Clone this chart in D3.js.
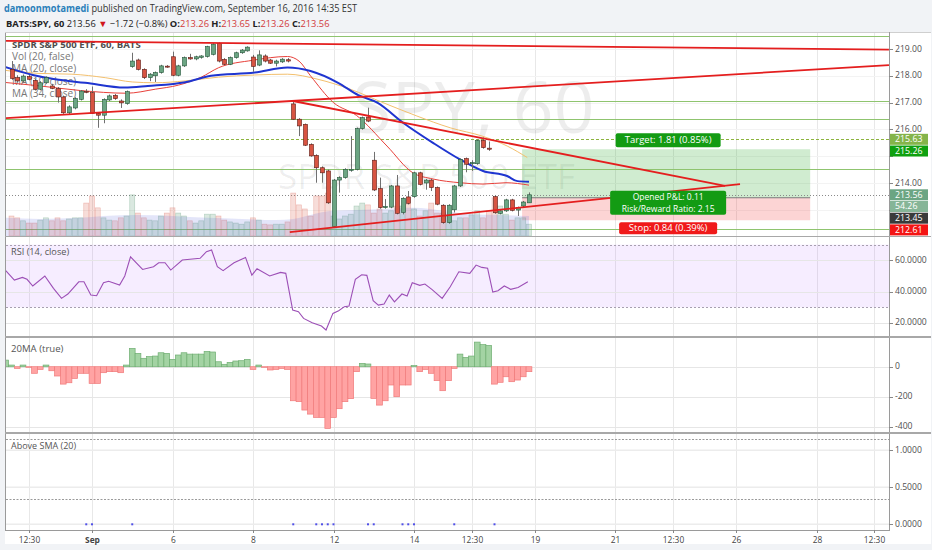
<!DOCTYPE html>
<html><head><meta charset="utf-8">
<script src="https://cdn.jsdelivr.net/npm/d3@7"></script>
<style>
html,body{margin:0;padding:0;background:#f1f3f6;}
svg{display:block;font-family:"Open Sans",Arial,sans-serif;}
</style></head><body>
<svg id="c" width="932" height="550"></svg>
<script>
// ---------------- DATA ----------------
const open = [218.24,217.93,217.81,217.97,217.83,217.50,217.74,217.62,217.52,217.21,
216.62,216.80,217.12,217.42,217.37,216.60,216.53,217.10,217.27,217.06,
216.96,218.34,218.59,218.24,217.93,218.00,218.12,218.36,218.71,218.02,
218.37,218.68,218.63,218.69,218.72,218.80,219.21,218.61,218.43,218.68,
218.86,218.93,218.70,218.40,218.74,218.59,218.47,218.52,218.60,216.95,
216.38,216.19,215.44,215.03,214.57,214.45,212.37,214.11,214.20,214.48,
214.51,216.03,216.46,214.85,213.79,213.08,213.10,213.89,212.90,213.48,
213.49,214.38,214.00,214.11,213.83,213.17,212.52,213.00,213.89,214.91,
214.72,214.72,215.59,215.30,213.49,212.87,212.96,213.37,212.99,213.14,
213.26];
const high = [218.55,218.02,218.05,218.03,217.88,217.80,217.98,217.70,217.58,217.26,
216.90,217.20,217.47,217.50,217.60,216.64,217.16,217.30,217.32,217.12,
217.45,218.86,218.64,218.28,218.10,218.16,218.41,218.40,218.90,218.41,
218.72,218.82,218.75,218.77,219.12,219.22,219.25,218.66,218.72,218.90,
219.00,219.10,218.78,218.95,218.80,218.63,218.60,218.66,218.66,217.05,
216.42,216.22,215.48,215.07,214.62,214.50,214.15,214.25,214.55,215.75,
216.07,216.48,216.81,215.16,214.20,213.40,213.93,214.30,213.47,213.70,
214.42,214.42,214.15,214.15,213.87,213.21,213.21,213.93,214.92,214.95,
214.85,215.63,215.70,215.55,213.53,213.00,213.41,213.41,213.12,213.33,
213.65];
const low = [217.85,217.75,217.77,217.83,217.45,217.46,217.70,217.50,217.00,216.58,
216.56,216.75,217.08,217.35,216.58,216.06,216.23,217.06,217.10,216.80,
216.92,218.30,218.20,217.88,217.80,217.77,218.08,218.30,217.98,217.98,
218.33,218.60,218.58,218.64,218.68,218.76,218.50,218.40,218.40,218.64,
218.82,218.90,218.15,218.36,218.50,218.44,218.35,218.48,218.50,216.35,
215.75,215.38,214.98,214.01,214.01,213.22,212.33,213.64,214.16,214.42,
214.47,215.99,216.27,213.70,213.04,213.04,213.06,212.83,212.83,213.20,
213.45,213.91,213.75,213.70,213.17,212.48,212.48,212.90,213.85,214.40,
214.45,214.68,215.28,215.20,212.85,212.83,212.92,212.94,212.77,213.10,
213.26];
const close = [217.90,217.81,217.99,217.87,217.50,217.74,217.93,217.53,217.21,216.62,
216.84,217.15,217.43,217.40,216.60,216.53,217.12,217.25,217.15,216.99,
217.41,218.55,218.24,217.93,218.06,218.12,218.37,218.34,218.02,218.37,
218.68,218.63,218.71,218.74,219.09,219.18,218.55,218.43,218.68,218.86,
218.96,219.07,218.35,218.78,218.55,218.47,218.55,218.62,218.55,216.38,
216.13,215.41,215.01,214.57,214.38,213.26,214.11,214.20,214.51,214.51,
216.03,216.44,216.31,213.74,213.08,213.12,213.89,212.87,213.43,213.24,
214.38,213.95,214.11,213.83,213.21,212.52,213.17,213.89,214.88,214.70,
214.76,215.59,215.32,215.26,212.89,212.96,213.37,212.98,213.08,213.29,
213.56];
const volume = [54,49,41,35,35,43,49,41,49,41,
46,49,49,89,108,76,49,43,41,49,
54,111,62,49,43,41,54,62,76,62,
54,41,35,41,59,59,54,43,38,35,
32,38,49,43,32,30,32,32,38,116,
84,73,54,108,108,116,54,46,54,59,
81,89,84,62,73,62,68,81,81,86,
73,54,68,89,62,62,54,41,49,49,
57,68,49,68,103,81,59,43,49,49,
32];
// [bar index, value] points
const volMA = [[-1,49],[5,46],[12,49],[16,54],[22,57],[28,54],[34,49],[40,46],[46,43],[49,46],[52,57],[56,68],[60,70],[65,73],[70,76],[75,68],[80,59],[85,57],[90,54]];
const maFast = [[-1,217.75],[5,217.62],[12,217.45],[20,217.35],[25,217.50],[29,217.65],[33,217.95],[36,218.30],[42,218.58],[48,218.72],[50,218.55],[52,218.00],[56,217.00],[60,216.52],[65.3,215.38],[69.8,214.38],[73.3,214.15],[78,214.01],[82,213.96],[86,214.01],[90,213.92]];
const ma20 = [[-1,218.32],[3.7,218.03],[7.6,217.87],[12.8,217.74],[19.7,217.56],[23.7,217.62],[30.2,217.76],[34.7,218.00],[42.3,218.12],[48,218.31],[52,218.18],[56.8,217.74],[60.3,217.28],[63.6,217.00],[68.1,216.25],[73.3,215.50],[78,214.88],[82,214.45],[86.2,214.26],[88,214.07],[90,214.05]];
const ma34 = [[-1,218.20],[4.6,218.09],[10.5,218.06],[16.3,217.93],[21,217.77],[25,217.74],[30.2,217.81],[36,217.95],[42.3,218.03],[48,218.06],[53.3,217.87],[58.9,217.50],[64.6,217.00],[70.5,216.50],[76.3,216.06],[82,215.74],[86.2,215.38],[89.7,214.95]];
const rsi = [[-1,53.4],[0.5,47.4],[1.9,49.1],[2.7,47.9],[3.7,43.6],[5.8,50.0],[7.3,42.1],[8.7,35.7],[9.8,38.5],[11.7,46.3],[12.6,46.3],[13.8,37.8],[14.8,37.4],[16,45.7],[16.9,46.6],[18.8,44.2],[19.7,50.0],[20.7,62.3],[22.8,54.2],[24.7,55.9],[25.6,58.5],[26.7,58.5],[27.7,53.8],[29.7,60.2],[32.8,61.3],[33.9,65.5],[34.8,66.6],[35.8,55.9],[36.8,53.4],[38.7,58.5],[40.7,61.9],[41.8,50.6],[42.7,54.6],[44.9,50.0],[46.8,52.3],[47.7,51.7],[48.9,28.2],[49.9,27.2],[50.8,22.9],[52.3,20.1],[53.9,18.0],[54.7,15.5],[55.9,26.1],[56.9,27.8],[57.9,30.4],[58.7,30.8],[59.8,47.9],[60.9,50.8],[61.8,50.4],[62.9,34.2],[63.8,31.4],[64.8,32.1],[65.7,37.8],[66.6,33.5],[67.9,38.5],[68.8,37.2],[69.7,45.7],[71,44.0],[71.9,44.9],[73.1,41.5],[74.9,35.7],[76.3,43.1],[77.8,52.7],[79.7,51.7],[80.8,57.0],[81.8,55.5],[82.8,54.9],[83.7,39.7],[84.6,40.6],[85.7,43.6],[86.8,41.5],[88.1,42.7],[89.8,46.3]];
// 20MA (true) histogram, bar index -1 .. 90
const maHistStart = -1;
const maHist = [44,
11,-11,11,-4,-44,-18,11,-27,-62,-116,
-107,-78,-44,-44,-111,-111,-40,-33,-33,-40,
11,122,89,56,67,71,93,89,49,78,
93,84,84,84,102,98,33,16,29,38,
40,49,-18,11,-4,-22,-18,-11,-18,-227,
-233,-289,-316,-338,-338,-411,-338,-280,-233,-213,
-33,22,18,-211,-256,-227,-122,-200,-122,-122,
7,-33,-18,-44,-93,-160,-93,-11,84,62,
71,164,147,142,-116,-104,-67,-100,-89,-67,
-33];
const aboveDots = [13,14,21,49,53,54,55,56,62,63,68,69,70,77,84];
const aboveBands = [1.15,0.34];
const greenLevels = [219.49,217.06,216.39,214.52,212.27];
const dashedLevel = 215.63;
const lastPrice = 213.56;
const volLabel = "54.26";
const trendLines = [[[-1,219.30],[152.6,218.98]],[[-1,216.42],[152.6,218.40]],[[48.96,217.06],[124.1,213.89]],[[48.4,212.17],[126.7,213.96]]];
const position = {start:88.8, end:138.9, entry:213.45, target:215.26, stop:212.61};
const timeTicks = [[3,"12:30"],[14,"Sep"],[28,"6"],[42,"8"],[56,"12"],[70,"14"],[80,"12:30"],[91,"19"],[105,"21"],[115,"12:30"],[126,"26"],[140,"28"],[150,"12:30"]];
const priceTicks = [212,213,214,215,216,217,218,219];
const rsiTicks = [20,40,60];
const maTicks = [0,-200,-400];
const aboveTicks = [0,0.5,1];
const legendLines = ["SPDR S&P 500 ETF, 60, BATS","Vol (20, false)","MA (20, close)","MA (10, close)","MA (34, close)"];

// ---------------- LAYOUT ----------------
const L=6, R=889;
const P = {main:[33,236], rsi:[237,336], ma:[338,432], ab:[434,530]};
const x = d3.scaleLinear().domain([0,150]).range([11.5,874]);
const yP = d3.scaleLinear().domain([213,219]).range([209.8,49]);
const yV = d3.scaleLinear().domain([0,135]).range([236,186]);
const yR = d3.scaleLinear().domain([30,70]).range([307.3,244.7]);
const yM = d3.scaleLinear().domain([0,-400]).range([366.7,426.7]);
const yA = d3.scaleLinear().domain([0,1]).range([524.3,450.3]);

const svg = d3.select("#c");
const defs = svg.append("defs");
Object.entries(P).forEach(([k,[a,b]])=>{
  defs.append("clipPath").attr("id","clip-"+k).append("rect").attr("x",L).attr("y",a).attr("width",R-L).attr("height",b-a);
});
svg.append("rect").attr("width",932).attr("height",550).attr("fill","#f1f3f6");
svg.append("rect").attr("x",5).attr("y",32).attr("width",926).attr("height",512).attr("fill","#fff");

// header
const hdr = svg.append("g");
const line1 = hdr.append("text").attr("x",4).attr("y",12).attr("font-size",10).attr("textLength",353).attr("lengthAdjust","spacingAndGlyphs");
line1.append("tspan").attr("font-weight","bold").attr("fill","#2a7fba").text("damoonmotamedi");
line1.append("tspan").attr("fill","#333").text(" published on TradingView.com, September 16, 2016 14:35 EST");
const h2 = [["BATS:SPY, 60 ","#222",true],["213.56 ","#222",false],["▼","#d0161b",false],[" \u22121.72 (\u22120.8%) ","#222",false],
["O:","#222",true],["213.26 ","#d23a3a",false],["H:","#222",true],["213.65 ","#d23a3a",false],
["L:","#222",true],["213.26 ","#d23a3a",false],["C:","#222",true],["213.56","#d23a3a",false]];
const line2 = hdr.append("text").attr("x",6).attr("y",27).attr("font-size",9.3).style("white-space","pre");
h2.forEach(d=>line2.append("tspan").attr("fill",d[1]).attr("font-weight",d[2]?"bold":"normal").text(d[0]));

// vertical grid across panes
const grid = svg.append("g");
timeTicks.forEach(([i])=>{
  const xx = Math.round(x(i))+0.5;
  if(xx>L && xx<R) grid.append("line").attr("x1",xx).attr("x2",xx).attr("y1",33).attr("y2",530).attr("stroke","#e8e8e8");
});

// ---------- MAIN PANE ----------
const gm = svg.append("g").attr("clip-path","url(#clip-main)");
priceTicks.forEach(v=>gm.append("line").attr("x1",L).attr("x2",R).attr("y1",Math.round(yP(v))+0.5).attr("y2",Math.round(yP(v))+0.5).attr("stroke","#f3f3f3"));
// watermark
gm.append("text").attr("x",352).attr("y",133).attr("font-size",72).attr("fill","#000").attr("fill-opacity",0.07).text("SPY, 60");
gm.append("text").attr("x",278).attr("y",189).attr("font-size",34).attr("fill","#000").attr("fill-opacity",0.07).attr("textLength",297).attr("lengthAdjust","spacingAndGlyphs").text("SPDR S&P 500 ETF");
// position tool boxes
const px0 = x(position.start), px1 = x(position.end);
gm.append("rect").attr("x",px0).attr("width",px1-px0).attr("y",yP(position.target)).attr("height",yP(position.entry)-yP(position.target)).attr("fill","rgba(40,170,40,0.22)");
gm.append("rect").attr("x",px0).attr("width",px1-px0).attr("y",yP(position.entry)).attr("height",yP(position.stop)-yP(position.entry)).attr("fill","rgba(240,40,40,0.2)");
gm.append("line").attr("x1",px0).attr("x2",px1).attr("y1",yP(position.entry)).attr("y2",yP(position.entry)).attr("stroke","#7a7a7a").attr("stroke-width",1.2);
// horizontal levels
greenLevels.forEach(v=>gm.append("line").attr("x1",L).attr("x2",R).attr("y1",Math.round(yP(v))+0.5).attr("y2",Math.round(yP(v))+0.5).attr("stroke","#8fc46f"));
gm.append("line").attr("x1",L).attr("x2",R).attr("y1",Math.round(yP(dashedLevel))+0.5).attr("y2",Math.round(yP(dashedLevel))+0.5).attr("stroke","#8db43e").attr("stroke-dasharray","3,2").attr("stroke-width",1.2);
gm.append("line").attr("x1",L).attr("x2",R).attr("y1",Math.round(yP(lastPrice))+0.5).attr("y2",Math.round(yP(lastPrice))+0.5).attr("stroke","#8a8a8a").attr("stroke-dasharray","1,2");
// legend
legendLines.forEach((t,k)=>gm.append("text").attr("x",12).attr("y",48+k*12.2).attr("font-size",k===0?9.6:10).attr("font-weight",k===0?"bold":"normal").attr("fill",k===0?"#4d4d4d":"#777").text(t));
// volume
const idx = d3.range(close.length);
idx.forEach(i=>{
  const up = close[i]>=open[i];
  gm.append("rect").attr("x",x(i)-2.5).attr("width",5).attr("y",yV(volume[i])).attr("height",236-yV(volume[i]))
    .attr("fill",up?"rgba(107,165,131,0.25)":"rgba(215,84,66,0.2)").attr("stroke",up?"rgba(107,165,131,0.45)":"rgba(215,84,66,0.35)").attr("stroke-width",0.6);
});
gm.append("path").datum(volMA).attr("d",d3.area().x(d=>x(d[0])).y0(236).y1(d=>yV(d[1])).curve(d3.curveMonotoneX)).attr("fill","rgba(90,100,220,0.17)");
// moving averages
const lineP = d3.line().x(d=>x(d[0])).y(d=>yP(d[1])).curve(d3.curveMonotoneX);
gm.append("path").datum(ma34).attr("d",lineP).attr("fill","none").attr("stroke","#f3c06e").attr("stroke-width",1);
gm.append("path").datum(maFast).attr("d",lineP).attr("fill","none").attr("stroke","#e8403a").attr("stroke-width",1);
gm.append("path").datum(ma20).attr("d",lineP).attr("fill","none").attr("stroke","#1f35d0").attr("stroke-width",2);
// candles
idx.forEach(i=>{
  const up = close[i]>=open[i];
  const cx = Math.round(x(i))+0.5;
  gm.append("line").attr("x1",cx).attr("x2",cx).attr("y1",yP(high[i])).attr("y2",yP(low[i])).attr("stroke","#707070");
  const yt=yP(Math.max(open[i],close[i])), yb=yP(Math.min(open[i],close[i]));
  gm.append("rect").attr("x",cx-2).attr("y",yt).attr("width",4).attr("height",Math.max(1,yb-yt))
    .attr("fill",up?"#6ba583":"#d75442").attr("stroke",up?"#225437":"#5b1a13").attr("stroke-width",0.6);
});
// trend lines
trendLines.forEach(([a,b])=>gm.append("line").attr("x1",x(a[0])).attr("y1",yP(a[1])).attr("x2",x(b[0])).attr("y2",yP(b[1])).attr("stroke","#e41e1e").attr("stroke-width",1.8));
// position labels
const pcx = (px0+px1)/2+2;
function tag(g,cx,y0,w,h,fill,lines){
  g.append("rect").attr("x",cx-w/2).attr("y",y0).attr("width",w).attr("height",h).attr("rx",2).attr("fill",fill);
  const fs = lines.length>1?8.5:9.5;
  const t = g.append("text").attr("text-anchor","middle").attr("font-size",fs).attr("fill","#fff");
  lines.forEach((s,k)=>t.append("tspan").attr("x",cx).attr("y",y0+h/2+(k-(lines.length-1)/2)*11.6+3.1).text(s));
}
const pg = svg.append("g");
tag(pg,pcx,yP(position.target)-16,105,14,"#139b13",["Target: "+(position.target-position.entry).toFixed(2)+" (0.85%)"]);
tag(pg,pcx,yP(position.entry)-7,116,24,"#139b13",["Opened P&L: 0.11","Risk/Reward Ratio: 2.15"]);
tag(pg,pcx,yP(position.stop)+2,98,12,"#f01a1a",["Stop: "+(position.entry-position.stop).toFixed(2)+" (0.39%)"]);

// ---------- RSI PANE ----------
const gr = svg.append("g").attr("clip-path","url(#clip-rsi)");
gr.append("rect").attr("x",L).attr("width",R-L).attr("y",yR(70)).attr("height",yR(30)-yR(70)).attr("fill","rgba(153,51,255,0.09)");
rsiTicks.forEach(v=>gr.append("line").attr("x1",L).attr("x2",R).attr("y1",Math.round(yR(v))+0.5).attr("y2",Math.round(yR(v))+0.5).attr("stroke","#e6e6e6"));
[70,30].forEach(v=>gr.append("line").attr("x1",L).attr("x2",R).attr("y1",Math.round(yR(v))+0.5).attr("y2",Math.round(yR(v))+0.5).attr("stroke","#a8a0b0").attr("stroke-dasharray","2,2"));
gr.append("path").datum(rsi).attr("d",d3.line().x(d=>x(d[0])).y(d=>yR(d[1]))).attr("fill","none").attr("stroke","#9c4fb6").attr("stroke-width",1.1);
gr.append("text").attr("x",11).attr("y",255).attr("font-size",9.2).attr("fill","#555").text("RSI (14, close)");

// ---------- 20MA PANE ----------
const gma = svg.append("g").attr("clip-path","url(#clip-ma)");
maTicks.forEach(v=>gma.append("line").attr("x1",L).attr("x2",R).attr("y1",Math.round(yM(v))+0.5).attr("y2",Math.round(yM(v))+0.5).attr("stroke","#e6e6e6"));
maHist.forEach((v,k)=>{
  const i = k+maHistStart;
  const y0=yM(0), y1=yM(v);
  gma.append("rect").attr("x",x(i)-2.875).attr("width",5.75).attr("y",Math.min(y0,y1)).attr("height",Math.abs(y1-y0))
    .attr("fill",v>=0?"#a3d3a3":"#ffa3a3").attr("stroke",v>=0?"#6fae72":"#f07a7a").attr("stroke-width",0.7);
});
gma.append("text").attr("x",11).attr("y",352).attr("font-size",9.6).attr("fill","#555").text("20MA (true)");

// ---------- ABOVE SMA PANE ----------
const ga = svg.append("g").attr("clip-path","url(#clip-ab)");
aboveTicks.forEach(v=>ga.append("line").attr("x1",L).attr("x2",R).attr("y1",yA(v)).attr("y2",yA(v)).attr("stroke","#ececec").attr("stroke-width",1.5));
aboveBands.forEach(v=>ga.append("line").attr("x1",L).attr("x2",R).attr("y1",Math.round(yA(v))+0.5).attr("y2",Math.round(yA(v))+0.5).attr("stroke","#9a9a9a").attr("stroke-dasharray","2,1.5"));
aboveDots.forEach(i=>ga.append("rect").attr("x",x(i)-1).attr("y",yA(0)-1).attr("width",2).attr("height",2).attr("fill","#5050e8"));
ga.append("text").attr("x",11).attr("y",449).attr("font-size",9).attr("fill","#555").text("Above SMA (20)");

// ---------- FRAMES ----------
const fr = svg.append("g").attr("fill","none");
fr.append("line").attr("x1",5.5).attr("x2",5.5).attr("y1",32).attr("y2",530).attr("stroke","#9a9a9a");
fr.append("line").attr("x1",5).attr("x2",931).attr("y1",32.5).attr("y2",32.5).attr("stroke","#cfcfcf");
fr.append("line").attr("x1",R+0.5).attr("x2",R+0.5).attr("y1",32).attr("y2",530).attr("stroke","#9a9a9a");
[236.5,337,433].forEach(y=>fr.append("line").attr("x1",5).attr("x2",931).attr("y1",y).attr("y2",y).attr("stroke","#a8a8a8").attr("stroke-width",y===236.5?1:2));
fr.append("line").attr("x1",5).attr("x2",R+1).attr("y1",530.5).attr("y2",530.5).attr("stroke","#9a9a9a");

// ---------- price labels (stacked) ----------
const plabels = [
  {v:dashedLevel, t:dashedLevel.toFixed(2), c:"#84b44a"},
  {v:position.target, t:position.target.toFixed(2), c:"#0fa00f"},
  {v:lastPrice, t:lastPrice.toFixed(2), c:"#6ba583"},
  {v:null, t:volLabel, c:"#86b597"},
  {v:position.entry, t:position.entry.toFixed(2), c:"#3a3a3a"},
  {v:position.stop, t:position.stop.toFixed(2), c:"#f41414"}
];
let prev = -1e9;
plabels.forEach(d=>{
  const nat = d.v===null ? -1e9 : yP(d.v);
  d.y = Math.max(nat, prev+11.7);
  prev = d.y;
});
function coveredByLabel(yy){
  return plabels.some(d=>Math.abs(d.y-yy)<7.5);
}

// ---------- RIGHT AXES ----------
const ax = svg.append("g").attr("font-size",8.6).attr("fill","#505050");
function rightTicks(vals, sc, fmt, y0, y1, skip){
  vals.forEach(v=>{
    const yy = sc(v);
    if(yy<y0||yy>y1) return;
    ax.append("line").attr("x1",R).attr("x2",R+4).attr("y1",Math.round(yy)+0.5).attr("y2",Math.round(yy)+0.5).attr("stroke","#888");
    if(skip && skip(yy)) return;
    ax.append("text").attr("x",R+6).attr("y",yy+2.5).text(fmt(v));
  });
}
rightTicks(priceTicks, yP, d=>d.toFixed(2), 40, 232, coveredByLabel);
rightTicks(rsiTicks, yR, d=>d.toFixed(4), 240, 334);
rightTicks(maTicks, yM, d=>String(d), 340, 432);
rightTicks(aboveTicks, yA, d=>d.toFixed(4), 436, 528);

const lb = svg.append("g");
plabels.forEach(d=>{
  lb.append("rect").attr("x",R+1).attr("y",d.y-5.5).attr("width",38).attr("height",11).attr("fill",d.c);
  lb.append("text").attr("x",R+6).attr("y",d.y+3).attr("font-size",8.8).attr("fill","#fff").text(d.t);
});

// ---------- TIME AXIS ----------
const tx = svg.append("g").attr("font-size",8.4).attr("fill","#444").attr("text-anchor","middle");
timeTicks.forEach(([i,t])=>{
  const xx = Math.round(x(i))+0.5;
  tx.append("line").attr("x1",xx).attr("x2",xx).attr("y1",530).attr("y2",533).attr("stroke","#888");
  tx.append("text").attr("x",xx).attr("y",542.5).attr("font-weight",t==="Sep"?"bold":"normal").text(t);
});
</script>
</body></html>
